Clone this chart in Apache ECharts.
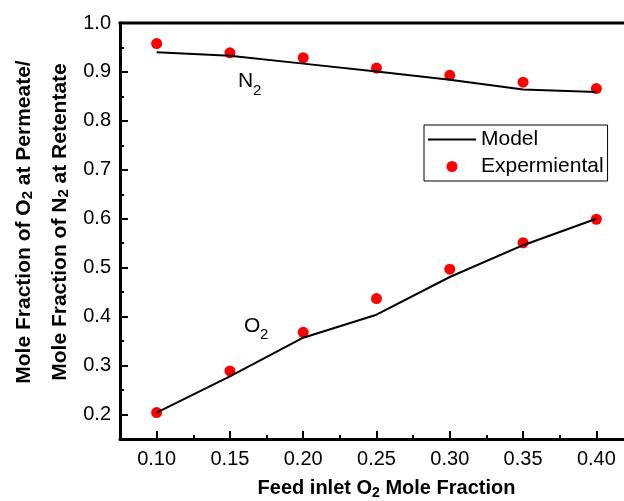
<!DOCTYPE html>
<html>
<head>
<meta charset="utf-8">
<script src="https://cdn.jsdelivr.net/npm/echarts@6/dist/echarts.min.js"></script>
<style>
  html, body { margin: 0; padding: 0; background: #fff; }
  #main { width: 624px; height: 501px; }
</style>
</head>
<body>
<div id="main"></div>
<script>
// feed inlet O2 mole fraction
const feedO2 = [0.10, 0.15, 0.20, 0.25, 0.30, 0.35, 0.40];
// N2 at retentate
const n2Model = [0.940, 0.933, 0.917, 0.901, 0.884, 0.864, 0.859];
const n2Exp = [0.958, 0.939, 0.929, 0.908, 0.893, 0.879, 0.866];
// O2 at permeate
const o2Model = [0.204, 0.278, 0.357, 0.404, 0.481, 0.546, 0.600];
const o2Exp = [0.204, 0.289, 0.368, 0.437, 0.497, 0.551, 0.599];

const xTicks = [0.10, 0.15, 0.20, 0.25, 0.30, 0.35, 0.40];
const xMinorTicks = [0.125, 0.175, 0.225, 0.275, 0.325, 0.375];
const yTicks = [0.2, 0.3, 0.4, 0.5, 0.6, 0.7, 0.8, 0.9, 1.0];
const yMinorTicks = [0.25, 0.35, 0.45, 0.55, 0.65, 0.75, 0.85, 0.95];
const xMin = 0.075, xMax = 0.425;
const yMin = 0.15, yMax = 1.0;

const FONT = '"Liberation Sans", Arial, sans-serif';
const GRID = { left: 120, right: -9, top: 23, bottom: 62 };

function pairs(xs, ys) {
  return xs.map((x, i) => [x, ys[i]]);
}

function axisLine() {
  return { show: true, onZero: false, lineStyle: { color: '#000', width: 3 } };
}

const chart = echarts.init(document.getElementById('main'));

const option = {
  animation: false,
  backgroundColor: '#fff',
  grid: {
    left: GRID.left, right: GRID.right, top: GRID.top, bottom: GRID.bottom,
    outerBoundsMode: 'none', containLabel: false
  },
  xAxis: [
    {
      type: 'value', position: 'bottom', min: xMin, max: xMax,
      axisLine: axisLine(),
      axisTick: { show: true, inside: true, length: 8, lineStyle: { color: '#000', width: 2 }, customValues: xTicks },
      axisLabel: {
        customValues: xTicks, margin: 10, color: '#000', fontSize: 20, fontFamily: FONT,
        formatter: v => v.toFixed(2)
      },
      splitLine: { show: false },
      name: '{b|Feed inlet O}{s|2}{b| Mole Fraction}',
      nameLocation: 'middle', nameGap: 37,
      nameTextStyle: {
        padding: [0, 0, 0, 20],
        rich: {
          b: { fontSize: 20, fontWeight: 'bold', fontFamily: FONT, color: '#000' },
          s: { fontSize: 14, fontWeight: 'bold', fontFamily: FONT, color: '#000', padding: [10, 0, 0, 0] }
        }
      }
    },
    {
      type: 'value', position: 'bottom', min: xMin, max: xMax,
      axisLine: { show: false },
      axisTick: { show: true, inside: true, length: 4, lineStyle: { color: '#000', width: 2 }, customValues: xMinorTicks },
      axisLabel: { show: false },
      splitLine: { show: false }
    }
  ],
  yAxis: [
    {
      type: 'value', position: 'left', min: yMin, max: yMax,
      axisLine: axisLine(),
      axisTick: { show: true, inside: true, length: 8, lineStyle: { color: '#000', width: 2 }, customValues: yTicks },
      axisLabel: {
        customValues: yTicks, margin: 9, color: '#000', fontSize: 20, fontFamily: FONT,
        formatter: v => v.toFixed(1)
      },
      splitLine: { show: false },
      name: '{b|Mole Fraction of O}{s|2}{b| at Permeate/}\n{b|Mole Fraction of N}{s|2}{b| at Retentate}',
      nameLocation: 'middle', nameGap: 42,
      nameTextStyle: {
        padding: [0, 0, 0, 18],
        rich: {
          b: { fontSize: 21, fontWeight: 'bold', fontFamily: FONT, color: '#000', lineHeight: 36 },
          s: { fontSize: 15, fontWeight: 'bold', fontFamily: FONT, color: '#000', padding: [8, 0, 0, 0] }
        }
      }
    },
    {
      type: 'value', position: 'left', min: yMin, max: yMax,
      axisLine: { show: false },
      axisTick: { show: true, inside: true, length: 4, lineStyle: { color: '#000', width: 2 }, customValues: yMinorTicks },
      axisLabel: { show: false },
      splitLine: { show: false }
    }
  ],
  legend: {
    orient: 'vertical',
    left: 424, top: 125,
    padding: [4, 4, 4, 3],
    itemGap: 6,
    itemWidth: 48,
    itemHeight: 11,
    borderColor: '#000', borderWidth: 1,
    textStyle: { fontSize: 21, color: '#000', fontFamily: FONT },
    data: [{ name: 'Model' }, { name: 'Expermiental', icon: 'circle' }]
  },
  graphic: [
    { type: 'text', x: 238, y: 81, style: { text: 'N', fill: '#000', font: '21px ' + FONT, verticalAlign: 'middle' } },
    { type: 'text', x: 253, y: 91, style: { text: '2', fill: '#000', font: '15px ' + FONT, verticalAlign: 'middle' } },
    { type: 'text', x: 244, y: 326, style: { text: 'O', fill: '#000', font: '21px ' + FONT, verticalAlign: 'middle' } },
    { type: 'text', x: 260, y: 335, style: { text: '2', fill: '#000', font: '15px ' + FONT, verticalAlign: 'middle' } },
    // top frame of the plot along the grid's top edge
    {
      type: 'rect', zlevel: 1, z: 100, silent: true,
      shape: { x: GRID.left - 1.5, y: GRID.top - 1.5, width: 624 - GRID.left + 1.5, height: 3 },
      style: { fill: '#000' }
    }
  ],
  series: [
    {
      name: 'Model', type: 'line', xAxisIndex: 0, yAxisIndex: 0,
      data: pairs(feedO2, n2Model), symbol: 'circle', showSymbol: false,
      lineStyle: { color: '#000', width: 2 }, itemStyle: { color: 'rgba(0,0,0,0)', borderWidth: 0 }
    },
    {
      name: 'Model', type: 'line', xAxisIndex: 0, yAxisIndex: 0,
      data: pairs(feedO2, o2Model), symbol: 'circle', showSymbol: false,
      lineStyle: { color: '#000', width: 2 }, itemStyle: { color: 'rgba(0,0,0,0)', borderWidth: 0 }
    },
    {
      name: 'Expermiental', type: 'scatter', xAxisIndex: 0, yAxisIndex: 0,
      data: pairs(feedO2, n2Exp), symbol: 'circle', symbolSize: 11,
      itemStyle: { color: '#ff0000', opacity: 1 }
    },
    {
      name: 'Expermiental', type: 'scatter', xAxisIndex: 0, yAxisIndex: 0,
      data: pairs(feedO2, o2Exp), symbol: 'circle', symbolSize: 11,
      itemStyle: { color: '#ff0000', opacity: 1 }
    }
  ]
};

chart.setOption(option);
</script>
</body>
</html>
